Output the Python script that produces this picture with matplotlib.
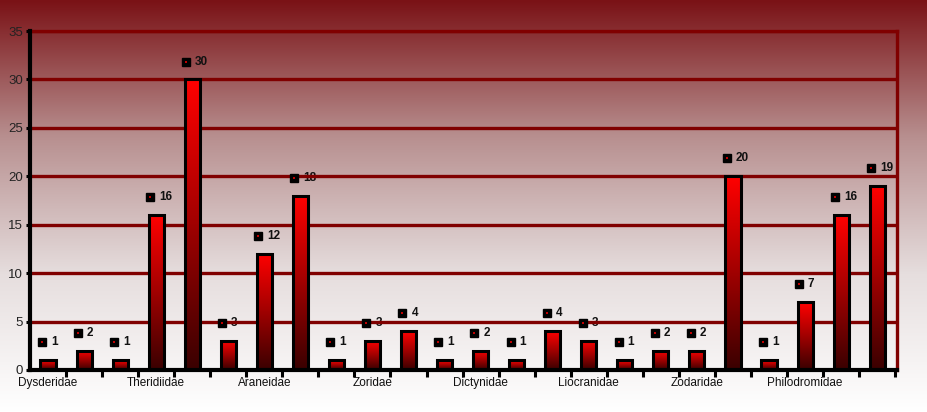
import numpy as np
import matplotlib
matplotlib.use('Agg')
import matplotlib.pyplot as plt
from matplotlib.colors import LinearSegmentedColormap

plt.rcParams['font.family'] = ['Liberation Sans', 'DejaVu Sans']

# counts per series (24 bars), family names shown on every 3rd slot
counts = [1, 2, 1, 16, 30, 3, 12, 18, 1, 3, 4, 1, 2, 1, 4, 3, 1, 2, 2, 20, 1, 7, 16, 19]
families = ['Dysderidae', 'Theridiidae', 'Araneidae', 'Zoridae',
            'Dictynidae', 'Liocranidae', 'Zodaridae', 'Philodromidae']
yticks = [0, 5, 10, 15, 20, 25, 30, 35]

fig = plt.figure(figsize=(9.28, 4.12), dpi=100)

# figure background gradient: dark red top -> white bottom
bg = fig.add_axes([0, 0, 1, 1], zorder=0)
bg_cmap = LinearSegmentedColormap.from_list('bg', ['#ffffff', '#e6dede', '#b89090', '#7a1216'])
bg.imshow(np.linspace(0, 1, 256).reshape(-1, 1)[::-1], aspect='auto', cmap=bg_cmap,
          extent=[0, 1, 0, 1])
bg.set_axis_off()

ax = fig.add_axes([30 / 928, 42 / 412, 867 / 928, 339 / 412], zorder=1)
ax.patch.set_alpha(0)

x = np.arange(len(counts))
w = 0.42
bar_cmap = LinearSegmentedColormap.from_list('bar', ['#3a0000', '#a00000', '#ff0000'])
grad = np.linspace(0, 1, 128).reshape(-1, 1)
for xi, v in zip(x, counts):
    ax.imshow(grad, origin='lower', aspect='auto', cmap=bar_cmap,
              extent=[xi - w / 2, xi + w / 2, 0, v], zorder=3)
ax.bar(x, counts, width=w, fill=False, edgecolor='black', linewidth=2.2, zorder=4)

# data labels with legend key square
for xi, v in zip(x, counts):
    ly = v + 1.85
    ax.plot(xi - 0.17, ly, marker='s', ms=6, color='black', zorder=5)
    ax.plot(xi - 0.17, ly, marker='s', ms=1.8, color='#c00000', mew=0, zorder=6)
    ax.text(xi + 0.08, ly, str(v), ha='left', va='center', fontsize=8.5,
            fontweight='bold', color='#111111', zorder=1.5)

ax.set_xlim(-0.5, 23.55)
ax.set_ylim(0, 35)
ax.set_yticks(yticks)
ax.set_yticklabels([str(t) for t in yticks], fontsize=9.5, color='#222222')
for t in yticks[1:]:
    ax.axhline(t, color='#800000', lw=2.4, zorder=2)

ax.set_xticks(np.arange(0.5, 24, 1))
ax.set_xticklabels([])
ax.set_xticks(np.arange(0, 24, 3), minor=True)
ax.set_xticklabels(families, minor=True, fontsize=8.5, color='#111111')
ax.tick_params(axis='x', which='major', length=5, width=2.2, color='black', direction='out')
ax.tick_params(axis='x', which='minor', length=0, pad=5)
ax.tick_params(axis='y', length=3, width=2.2, color='black', pad=2)

for s in ['left', 'bottom']:
    ax.spines[s].set_color('black')
    ax.spines[s].set_linewidth(3)
    ax.spines[s].set_zorder(7)
for s in ['right', 'top']:
    ax.spines[s].set_color('#800000')
    ax.spines[s].set_linewidth(2.4)

fig.savefig('out.png', dpi=100)
